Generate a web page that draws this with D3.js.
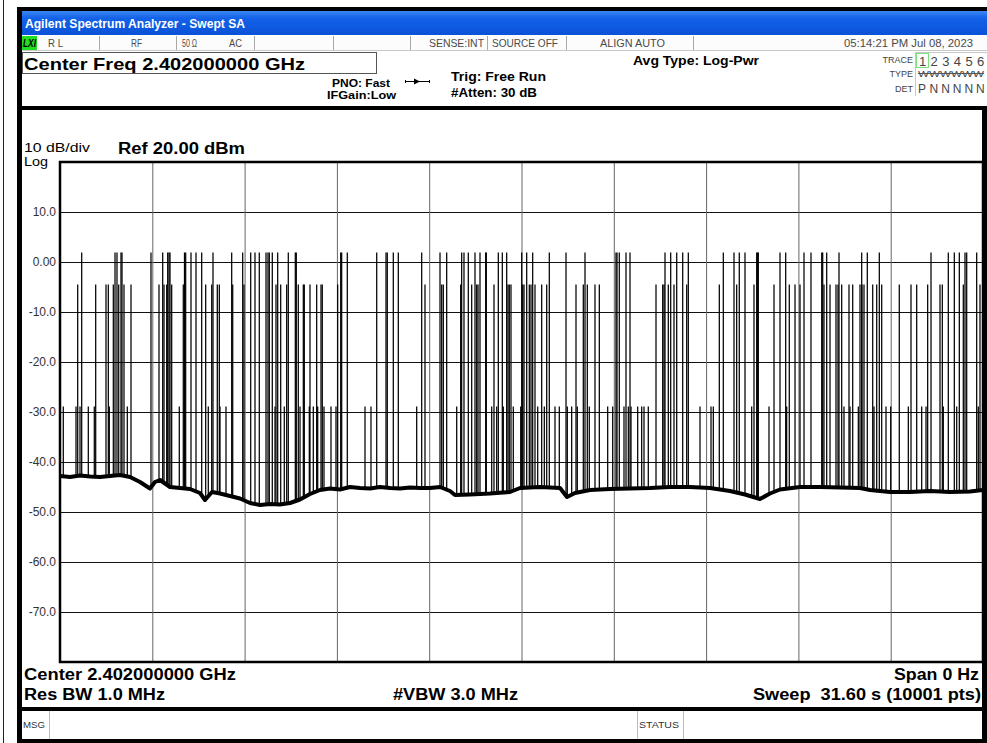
<!DOCTYPE html>
<html><head><meta charset="utf-8">
<script src="https://cdn.jsdelivr.net/npm/d3@7"></script>
<style>
html,body{margin:0;padding:0;background:#fff;}
svg{display:block;}
</style></head><body>
<svg id="c" width="987" height="743"></svg>
<script>
// ---------------- DATA ----------------
const yTickValues = [10, 0, -10, -20, -30, -40, -50, -60, -70];
const yTickLabels = ["10.0", "0.00", "-10.0", "-20.0", "-30.0", "-40.0", "-50.0", "-60.0", "-70.0"];
const refLevelDbm = 20;
const bottomLevelDbm = -80;
const sweepSeconds = 31.6;
const timeDivisions = 10;

// noise floor of the zero-span trace (time s, level dBm)
const floorTimes = [0, 0.342, 0.685, 1.027, 1.369, 1.712, 2.054, 2.397, 2.739, 3.081, 3.252, 3.424, 3.766, 4.108, 4.451, 4.793, 4.964, 5.204, 5.478, 5.820, 6.163, 6.505, 6.847, 7.190, 7.532, 7.874, 8.217, 8.559, 8.901, 9.244, 9.586, 9.928, 10.271, 10.613, 10.956, 11.298, 11.640, 11.983, 12.325, 12.667, 13.010, 13.352, 13.523, 14.037, 14.722, 15.406, 15.749, 16.433, 17.118, 17.358, 17.632, 18.145, 18.830, 19.515, 20.199, 20.884, 21.569, 22.254, 22.938, 23.452, 23.965, 24.308, 24.650, 25.335, 26.020, 26.704, 27.389, 27.732, 28.416, 29.101, 29.785, 30.470, 31.155, 31.6];
const floorLevels = [-42.8, -43.0, -42.7, -42.9, -43.0, -42.8, -42.6, -43.0, -44.0, -45.3, -44.0, -43.6, -45.0, -45.2, -45.4, -46.2, -47.6, -46.0, -46.3, -46.8, -47.3, -48.2, -48.6, -48.4, -48.5, -48.2, -47.5, -46.4, -45.6, -45.3, -45.5, -45.0, -45.2, -45.3, -45.0, -45.2, -45.3, -45.1, -45.2, -45.2, -45.0, -45.8, -46.6, -46.5, -46.3, -46.0, -45.2, -45.0, -45.2, -47.0, -46.2, -45.6, -45.4, -45.3, -45.2, -45.0, -45.0, -45.2, -45.8, -46.5, -47.4, -46.3, -45.5, -45.0, -45.0, -45.1, -45.2, -45.6, -46.0, -46.0, -45.8, -46.0, -45.9, -45.6];

// burst (packet) times in seconds, grouped by peak level
const burstLevelHigh = 1.9;
const burstTimesHigh = [0.743, 1.883, 1.951, 2.088, 2.123, 3.115, 3.516, 3.687, 3.732, 3.766, 4.262, 4.303, 4.485, 4.656, 4.851, 5.238, 5.878, 6.255, 6.529, 6.676, 6.823, 7.053, 7.121, 7.166, 7.268, 7.453, 7.816, 8.056, 8.090, 9.610, 9.644, 9.836, 10.843, 11.161, 11.205, 11.411, 11.582, 12.383, 13.010, 13.239, 13.752, 13.831, 13.979, 14.208, 14.379, 14.574, 14.595, 15.006, 15.143, 15.293, 15.807, 15.978, 16.183, 16.752, 17.324, 17.974, 19.035, 19.070, 19.148, 19.378, 19.515, 20.713, 20.908, 21.114, 21.319, 21.511, 22.709, 23.075, 23.256, 23.452, 23.852, 23.886, 23.907, 24.650, 24.845, 25.472, 25.711, 26.078, 26.112, 26.249, 26.670, 27.447, 27.639, 28.050, 29.820, 30.412, 30.618, 30.789, 30.984, 31.042, 31.384];
const burstLevelMid = -4.5;
const burstTimesMid = [0.606, 1.222, 1.575, 1.654, 1.825, 2.010, 2.191, 2.431, 3.389, 3.561, 3.653, 3.824, 4.221, 4.988, 5.194, 5.385, 5.454, 5.913, 6.299, 7.395, 7.556, 7.761, 8.158, 8.330, 8.364, 8.559, 8.788, 8.936, 8.980, 9.507, 12.496, 13.068, 13.123, 13.718, 14.095, 14.266, 14.311, 14.858, 15.338, 15.382, 15.440, 15.841, 15.886, 16.067, 16.125, 16.262, 16.491, 16.663, 17.666, 17.916, 18.053, 18.316, 18.464, 20.405, 20.634, 20.679, 20.826, 21.021, 21.456, 22.572, 23.167, 23.760, 24.445, 24.968, 25.164, 25.335, 26.156, 26.362, 26.567, 26.636, 26.762, 27.012, 27.139, 27.389, 27.457, 27.526, 27.824, 27.961, 28.132, 28.734, 29.135, 29.330, 29.706, 30.128, 30.207, 30.926, 31.497];
const burstLevelLow = -28.9;
const burstTimesLow = [0.113, 0.548, 0.685, 0.969, 1.174, 1.688, 2.304, 4.084, 5.077, 5.478, 5.683, 7.361, 7.679, 8.217, 8.535, 8.672, 8.823, 9.038, 9.278, 9.449, 10.442, 10.647, 12.212, 13.582, 14.780, 14.951, 15.177, 15.519, 15.773, 16.355, 16.581, 16.947, 17.094, 17.368, 17.518, 17.710, 18.121, 18.751, 18.922, 19.309, 19.457, 19.549, 19.778, 19.915, 19.994, 20.141, 21.911, 22.288, 22.367, 23.681, 24.273, 24.879, 26.841, 27.047, 27.331, 27.868, 28.279, 28.440, 29.043, 29.501, 29.649, 30.241, 30.700, 31.439];

// header texts
const statusCells = ["R L", "RF", "50 \u03A9", "AC", "SENSE:INT", "SOURCE OFF", "ALIGN AUTO", "05:14:21 PM Jul 08, 2023"];
const traceNumbers = ["1", "2", "3", "4", "5", "6"];
const traceDet = ["P", "N", "N", "N", "N", "N"];

// ---------------- DRAW ----------------
const svg = d3.select("#c");
const W = 987, H = 743;
const P = {l: 60, r: 983, t: 162, b: 662};

const x = d3.scaleLinear().domain([0, sweepSeconds]).range([P.l, P.r]);
const y = d3.scaleLinear().domain([bottomLevelDbm, refLevelDbm]).range([P.b, P.t]);

function txt(g, xx, yy, s, o = {}) {
  const t = g.append("text").attr("x", xx).attr("y", yy).text(s)
    .attr("font-family", o.ff || "'Liberation Sans', Arial, sans-serif")
    .attr("font-size", o.fs || 12)
    .attr("font-weight", o.fw || "normal")
    .attr("fill", o.fill || "#000")
    .attr("text-anchor", o.anchor || "start")
    .style("white-space", "pre");
  if (o.len) t.attr("textLength", o.len).attr("lengthAdjust", "spacingAndGlyphs");
  if (o.style) t.attr("font-style", o.style);
  return t;
}

// background
svg.append("rect").attr("width", W).attr("height", H).attr("fill", "#fff");
svg.append("rect").attr("x", 3).attr("y", 0).attr("width", 1).attr("height", H).attr("fill", "#222");

// title bar gradient
const defs = svg.append("defs");
const grad = defs.append("linearGradient").attr("id", "tb").attr("x1", 0).attr("x2", 0).attr("y1", 0).attr("y2", 1);
grad.append("stop").attr("offset", "0%").attr("stop-color", "#3B86F2");
grad.append("stop").attr("offset", "30%").attr("stop-color", "#1362E8");
grad.append("stop").attr("offset", "100%").attr("stop-color", "#0A52D8");

svg.append("rect").attr("x", 17).attr("y", 7).attr("width", W - 17).attr("height", 4).attr("fill", "#000");
svg.append("rect").attr("x", 17).attr("y", 7).attr("width", 5).attr("height", H - 7).attr("fill", "#000");
svg.append("rect").attr("x", 22).attr("y", 11).attr("width", W - 22).attr("height", 24).attr("fill", "url(#tb)");
txt(svg, 25, 28, "Agilent Spectrum Analyzer - Swept SA", {fw: "bold", fs: 12, fill: "#fff", len: 220});

// status row
const hdr = svg.append("g");
hdr.append("rect").attr("x", 22).attr("y", 35).attr("width", W - 22).attr("height", 16).attr("fill", "#fcfcfc");
hdr.append("line").attr("x1", 22).attr("x2", W).attr("y1", 50.5).attr("y2", 50.5).attr("stroke", "#c8c8c8");
hdr.append("rect").attr("x", 22).attr("y", 36).attr("width", 15).attr("height", 14).attr("fill", "#22dd22");
txt(hdr, 23, 47, "LXI", {fw: "bold", fs: 10, style: "italic", len: 13});
[99, 176, 254, 333, 410, 487, 566, 693].forEach(sx => {
  hdr.append("line").attr("x1", sx + 0.5).attr("x2", sx + 0.5).attr("y1", 36).attr("y2", 50).attr("stroke", "#a8a8a8");
});
const statusPos = [[48, 15], [131, 11], [182, 15], [229, 13], [429, 55], [492, 66], [600, 65], [844, 129]];
statusCells.forEach((s, i) => {
  txt(hdr, statusPos[i][0], 47, s, {fs: 10.5, fill: "#4a4a4a", len: statusPos[i][1]});
});

// center freq box
hdr.append("rect").attr("x", 22.5).attr("y", 52.5).attr("width", 354).attr("height", 21).attr("fill", "none").attr("stroke", "#555");
txt(hdr, 24, 70, "Center Freq 2.402000000 GHz", {fw: "bold", fs: 17, len: 281});
txt(hdr, 332, 87, "PNO: Fast", {fw: "bold", fs: 11, len: 58});
txt(hdr, 327, 99, "IFGain:Low", {fw: "bold", fs: 11, len: 69});
hdr.append("line").attr("x1", 405).attr("x2", 430).attr("y1", 81.5).attr("y2", 81.5).attr("stroke", "#000");
hdr.append("path").attr("d", "M414,78.5 L420,81.5 L414,84.5 Z").attr("fill", "#000");
hdr.append("line").attr("x1", 405.5).attr("x2", 405.5).attr("y1", 80).attr("y2", 83).attr("stroke", "#000");
hdr.append("line").attr("x1", 429.5).attr("x2", 429.5).attr("y1", 80).attr("y2", 83).attr("stroke", "#000");
txt(hdr, 451, 81, "Trig: Free Run", {fw: "bold", fs: 12, len: 95});
txt(hdr, 451, 97, "#Atten: 30 dB", {fw: "bold", fs: 12, len: 86});
txt(hdr, 633, 65, "Avg Type: Log-Pwr", {fw: "bold", fs: 12, len: 126});

// trace block
hdr.append("line").attr("x1", 915.5).attr("x2", 915.5).attr("y1", 52).attr("y2", 96).attr("stroke", "#c8c8c8");
hdr.append("line").attr("x1", 915).attr("x2", W).attr("y1", 52.5).attr("y2", 52.5).attr("stroke", "#c8c8c8");
txt(hdr, 913, 63, "TRACE", {fs: 9, fill: "#444", anchor: "end"});
txt(hdr, 913, 77, "TYPE", {fs: 9, fill: "#444", anchor: "end"});
txt(hdr, 913, 92, "DET", {fs: 9, fill: "#444", anchor: "end"});
hdr.append("rect").attr("x", 916.5).attr("y", 53.5).attr("width", 12).attr("height", 14).attr("fill", "none").attr("stroke", "#7ddf7d");
traceNumbers.forEach((s, i) => txt(hdr, 919 + i * 11.6, 66, s, {fs: 13, fill: "#444"}));
txt(hdr, 918, 77, "WWWWWW", {fs: 9, fill: "#444", len: 66});
hdr.append("line").attr("x1", 918).attr("x2", 984).attr("y1", 73.5).attr("y2", 73.5).attr("stroke", "#555");
traceDet.forEach((s, i) => txt(hdr, 918 + i * 11.6, 93, s, {fs: 12, fill: "#444"}));

// panel frame
svg.append("rect").attr("x", 17).attr("y", 106).attr("width", W - 17).attr("height", 4).attr("fill", "#000");
svg.append("rect").attr("x", 982).attr("y", 106).attr("width", 5).attr("height", H - 106).attr("fill", "#000");
svg.append("rect").attr("x", 17).attr("y", 707).attr("width", W - 17).attr("height", 4).attr("fill", "#000");
svg.append("rect").attr("x", 17).attr("y", 739).attr("width", W - 17).attr("height", 4).attr("fill", "#000");

// top panel labels
txt(svg, 24, 152, "10 dB/div", {fs: 12.5, len: 66});
txt(svg, 24, 166, "Log", {fs: 12, len: 24});
txt(svg, 118, 154, "Ref 20.00 dBm", {fw: "bold", fs: 16, len: 127});

// grid
const plot = svg.append("g");
plot.append("g").attr("transform", `translate(${P.l},0)`)
  .call(d3.axisLeft(y).tickValues(yTickValues).tickSize(-(P.r - P.l)).tickFormat((d, i) => yTickLabels[i]))
  .call(g => g.select(".domain").remove())
  .call(g => g.selectAll(".tick line").attr("stroke", "#111").attr("stroke-width", 1))
  .call(g => g.selectAll(".tick text").attr("x", -4).attr("font-family", "'Liberation Sans', Arial, sans-serif")
    .attr("font-size", 12).attr("fill", "#333"));

const vTicks = d3.range(1, timeDivisions).map(i => i * sweepSeconds / timeDivisions);
plot.append("g").attr("transform", `translate(0,${P.b})`)
  .call(d3.axisBottom(x).tickValues(vTicks).tickSize(-(P.b - P.t)).tickFormat(""))
  .call(g => g.select(".domain").remove())
  .call(g => g.selectAll(".tick line").attr("stroke", "#666").attr("stroke-width", 1));

// trace
const floorAt = d3.scaleLinear().domain(floorTimes).range(floorLevels);
const bursts = [];
burstTimesLow.forEach(t => bursts.push({t, v: burstLevelLow}));
burstTimesMid.forEach(t => bursts.push({t, v: burstLevelMid}));
burstTimesHigh.forEach(t => bursts.push({t, v: burstLevelHigh}));

defs.append("clipPath").attr("id", "pc").append("rect")
  .attr("x", P.l).attr("y", P.t).attr("width", P.r - P.l).attr("height", P.b - P.t);
const tr = plot.append("g").attr("clip-path", "url(#pc)");

tr.selectAll("line.burst").data(bursts).join("line").attr("class", "burst")
  .attr("x1", d => x(d.t)).attr("x2", d => x(d.t))
  .attr("y1", d => y(d.v)).attr("y2", d => y(floorAt(d.t)))
  .attr("stroke", "#000").attr("stroke-width", 1.25);

const line = d3.line().x((d, i) => x(floorTimes[i])).y(d => y(d));
tr.append("path").attr("d", line(floorLevels)).attr("fill", "none")
  .attr("stroke", "#000").attr("stroke-width", 4).attr("stroke-linejoin", "round");

// plot border
plot.append("rect").attr("x", P.l).attr("y", P.t).attr("width", P.r - P.l).attr("height", P.b - P.t)
  .attr("fill", "none").attr("stroke", "#000").attr("stroke-width", 2.5);

// bottom annotation
txt(svg, 24, 680, "Center 2.402000000 GHz", {fw: "bold", fs: 16, len: 212});
txt(svg, 24, 700, "Res BW 1.0 MHz", {fw: "bold", fs: 16, len: 141});
txt(svg, 393, 700, "#VBW 3.0 MHz", {fw: "bold", fs: 16, len: 125});
txt(svg, 894, 680, "Span 0 Hz", {fw: "bold", fs: 16, len: 85});
txt(svg, 753, 700, "Sweep\u00A0\u00A031.60 s (10001 pts)", {fw: "bold", fs: 16, len: 228});

// message row
const mr = svg.append("g");
mr.append("line").attr("x1", 49.5).attr("x2", 49.5).attr("y1", 711).attr("y2", 739).attr("stroke", "#bbb");
mr.append("line").attr("x1", 637.5).attr("x2", 637.5).attr("y1", 711).attr("y2", 739).attr("stroke", "#bbb");
mr.append("line").attr("x1", 683.5).attr("x2", 683.5).attr("y1", 711).attr("y2", 739).attr("stroke", "#bbb");
txt(mr, 23, 728, "MSG", {fs: 9, fill: "#333", len: 22});
txt(mr, 639, 728, "STATUS", {fs: 9, fill: "#333", len: 40});
</script>
</body></html>
